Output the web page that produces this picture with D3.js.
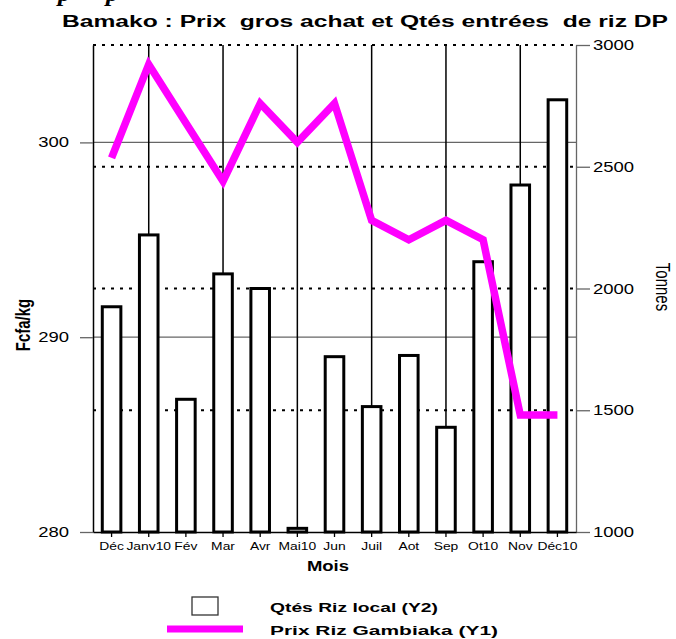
<!DOCTYPE html>
<html><head><meta charset="utf-8">
<script src="https://cdn.jsdelivr.net/npm/d3@7"></script>
<style>
body{margin:0;background:#fff}
svg{display:block;font-family:"Liberation Sans",Arial,sans-serif}
</style></head><body>
<svg id="chart" width="676" height="639"></svg>
<script>
const months = ["Déc","Janv10","Fév","Mar","Avr","Mai10","Jun","Juil","Aot","Sep","Ot10","Nov","Déc10"];
const qtes = [1925,2220,1545,2060,2000,1015,1720,1515,1725,1430,2110,2425,2775];
const prix = [299.2,304,301,298,302,300,302,296,295,296,295,286,286];
const y1Ticks = [280,290,300];
const y2Ticks = [1000,1500,2000,2500,3000];
const gridMonths = ["Janv10","Mar","Mai10","Juil","Sep","Nov"];

const svg = d3.select("#chart");
const SX = 1.32; // text in the source is stretched horizontally
const pLeft = 93, pRight = 576, pTop = 45, pBottom = 532;

const x = d3.scaleBand().domain(months).range([pLeft, pRight]);
const y1 = d3.scaleLinear().domain([280, 305]).range([pBottom, pTop]);
const y2 = d3.scaleLinear().domain([1000, 3000]).range([pBottom, pTop]);
const cx = d => x(d) + x.bandwidth() / 2;

function label(px, py, txt, size, opts = {}) {
  return svg.append("text")
    .attr("transform", `translate(${px},${py}) scale(${SX},1)` + (opts.rot ? ` rotate(${opts.rot})` : ""))
    .attr("font-size", size)
    .attr("font-weight", opts.bold ? "bold" : null)
    .attr("text-anchor", opts.anchor || "start")
    .style("white-space", "pre")
    .text(txt);
}

// clipped line of text above the title
svg.append("text").attr("x", 58).attr("y", 1).attr("font-family", "Liberation Serif")
  .attr("font-style", "italic").attr("font-weight", "bold").attr("font-size", 26).text("p");
svg.append("text").attr("x", 106).attr("y", 1).attr("font-family", "Liberation Serif")
  .attr("font-style", "italic").attr("font-weight", "bold").attr("font-size", 26).text("p");

// title
svg.append("text").attr("x", 62).attr("y", 27)
  .attr("font-size", 16).attr("font-weight", "bold")
  .attr("textLength", 606).attr("lengthAdjust", "spacingAndGlyphs")
  .style("white-space", "pre")
  .text("Bamako : Prix  gros achat et Qtés entrées  de riz DP");

// Y1 solid grid lines
svg.append("g").selectAll("line").data([290, 300]).join("line")
  .attr("x1", pLeft).attr("x2", pRight)
  .attr("y1", d => y1(d)).attr("y2", d => y1(d))
  .attr("stroke", "#666").attr("stroke-width", 1.3);

// Y2 dotted grid lines
svg.append("g").selectAll("line").data(y2Ticks.slice(1)).join("line")
  .attr("x1", pLeft).attr("x2", pRight)
  .attr("y1", d => y2(d)).attr("y2", d => y2(d))
  .attr("stroke", "#000").attr("stroke-width", 2)
  .attr("stroke-dasharray", "3,6");

// vertical grid lines
svg.append("g").selectAll("line").data(gridMonths).join("line")
  .attr("x1", cx).attr("x2", cx)
  .attr("y1", pTop).attr("y2", pBottom)
  .attr("stroke", "#000").attr("stroke-width", 1.5);

// bars
const bw = x.bandwidth() * 0.5;
svg.append("g").selectAll("rect").data(qtes).join("rect")
  .attr("x", (d, i) => cx(months[i]) - bw / 2)
  .attr("y", d => y2(d))
  .attr("width", bw)
  .attr("height", d => pBottom - y2(d))
  .attr("fill", "#fff").attr("stroke", "#000").attr("stroke-width", 3);

// price line
const line = d3.line().x((d, i) => cx(months[i])).y(d => y1(d));
svg.append("path").datum(prix)
  .attr("d", line)
  .attr("fill", "none").attr("stroke", "#ff00ff")
  .attr("stroke-width", 7.5).attr("stroke-linejoin", "miter");

// axes
const gL = svg.append("g").attr("transform", `translate(${pLeft},0)`)
  .call(d3.axisLeft(y1).tickValues(y1Ticks).tickSize(13).tickSizeOuter(0).tickFormat(""));
gL.select(".domain").attr("stroke", "#000").attr("stroke-width", 1.5);
gL.selectAll(".tick line").attr("stroke", "#666").attr("stroke-width", 1.3);

const gR = svg.append("g").attr("transform", `translate(${pRight},0)`)
  .call(d3.axisRight(y2).tickValues(y2Ticks).tickSize(14).tickSizeOuter(0).tickFormat(""));
gR.selectAll("path,line").attr("stroke", "#666").attr("stroke-width", 1.3);

const gB = svg.append("g").attr("transform", `translate(0,${pBottom})`)
  .call(d3.axisBottom(x).tickSize(5).tickSizeOuter(0).tickFormat(""));
gB.selectAll("path,line").attr("stroke", "#000").attr("stroke-width", 1.3);

// tick labels
y1Ticks.forEach(v => label(69, y1(v) + 5, String(v), 14, { anchor: "end" }));
y2Ticks.forEach(v => label(593, y2(v) + 5, String(v), 14));
months.forEach(m => label(cx(m), pBottom + 18, m, 10.5, { anchor: "middle" }));

// axis titles
label(328, 571, "Mois", 14, { bold: true, anchor: "middle" });
label(30, 325, "Fcfa/kg", 15, { bold: true, anchor: "middle", rot: -90 });
label(656, 287, "Tonnes", 15, { anchor: "middle", rot: 90 });

// legend
svg.append("rect").attr("x", 192).attr("y", 597).attr("width", 26).attr("height", 18)
  .attr("fill", "#fff").attr("stroke", "#333").attr("stroke-width", 1.3);
svg.append("line").attr("x1", 167).attr("x2", 243).attr("y1", 629).attr("y2", 629)
  .attr("stroke", "#ff00ff").attr("stroke-width", 7);
svg.append("text").attr("x", 270).attr("y", 612).attr("font-size", 12.5).attr("font-weight", "bold")
  .attr("textLength", 168).attr("lengthAdjust", "spacingAndGlyphs").text("Qtés Riz local (Y2)");
svg.append("text").attr("x", 270).attr("y", 635).attr("font-size", 12.5).attr("font-weight", "bold")
  .attr("textLength", 228).attr("lengthAdjust", "spacingAndGlyphs").text("Prix Riz Gambiaka (Y1)");
</script>
</body></html>
